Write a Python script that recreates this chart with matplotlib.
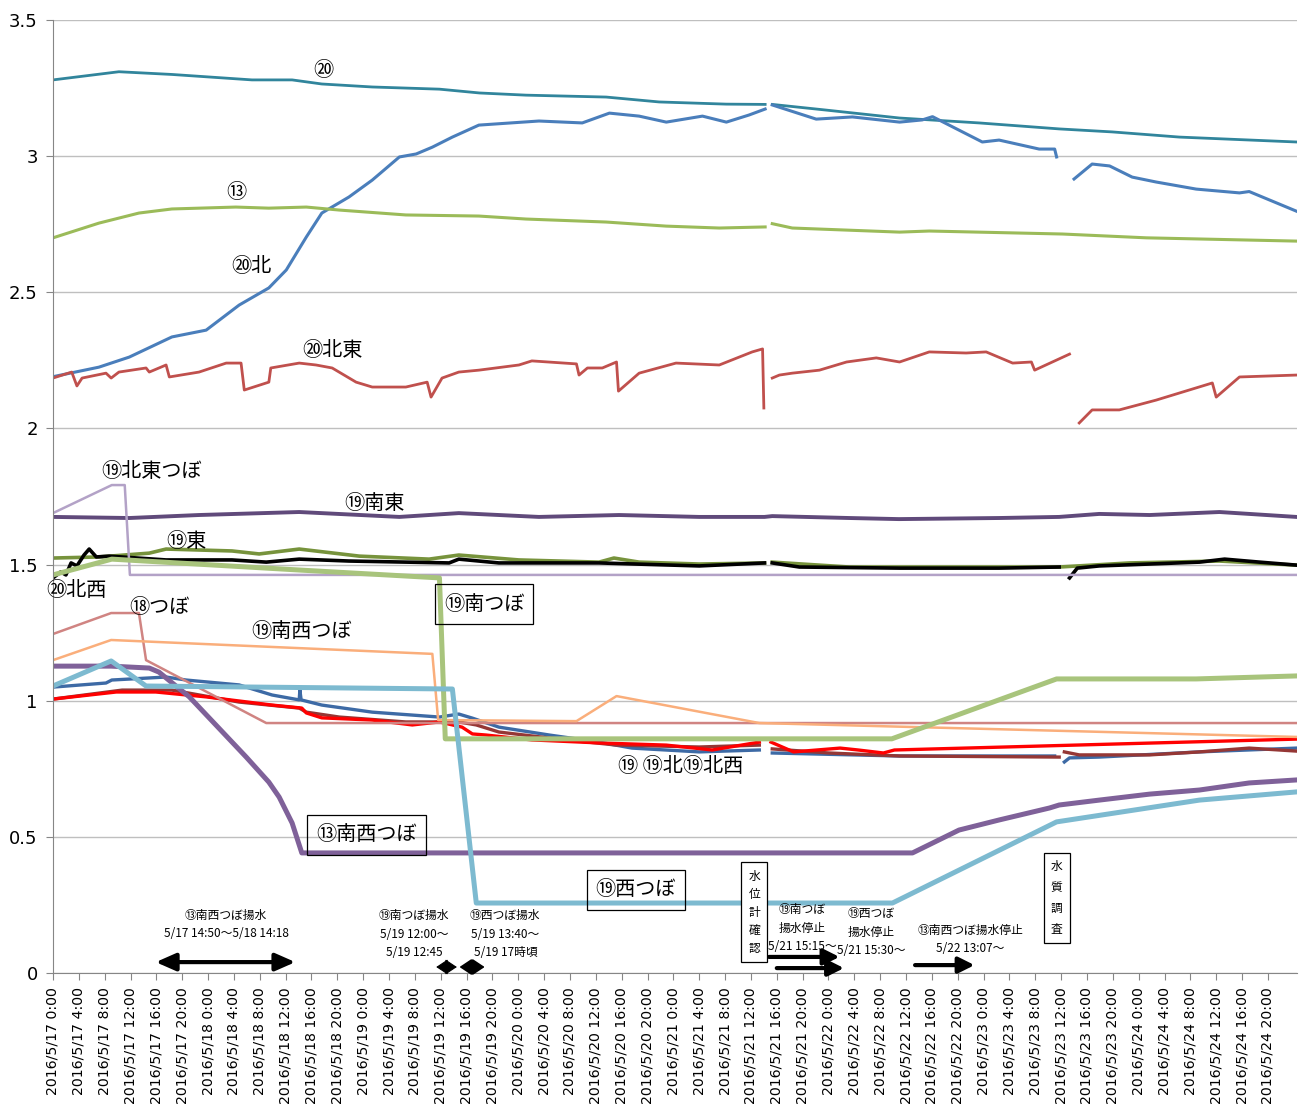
import matplotlib
matplotlib.use('Agg')
import matplotlib.pyplot as plt
import numpy as np
import pandas as pd

plt.rcParams['font.family'] = ['Noto Sans CJK JP', 'DejaVu Sans']
nan = np.nan

# hours since 2016/5/17 0:00 and water level values
t_20 = [0, 10.2, 18.4, 30.8, 37.0, 41.6, 49.4, 59.8, 66.0, 73.2, 85.6, 93.8, 104.2, 110.2, nan,
        111.3, 119.7, 131.0, 143.3, 155.7, 163.9, 174.3, 192.4]
v_20 = [3.28, 3.31, 3.30, 3.28, 3.28, 3.265, 3.254, 3.246, 3.232, 3.224, 3.217, 3.199, 3.191, 3.19, nan,
        3.19, 3.169, 3.14, 3.122, 3.10, 3.089, 3.07, 3.052]

t_20n = [0, 7.1, 11.8, 18.4, 23.7, 28.8, 33.4, 36.1, 39.2, 41.6, 45.8, 49.4, 53.6, 56.2, 58.7, 61.8,
         65.9, 75.2, 81.9, 86.1, 90.7, 94.9, 100.5, 104.2, 107.7, 110.2, nan, 111.3, 118.1, 123.7,
         131.0, 134.5, 136.1, 143.8, 146.4, 152.6, 155.0, 155.3, nan, 158.0, 160.8, 163.5, 167.0,
         170.7, 176.9, 183.6, 185.1, 192.4]
v_20n = [2.19, 2.225, 2.262, 2.336, 2.361, 2.453, 2.516, 2.582, 2.703, 2.791, 2.85, 2.912, 2.997,
         3.008, 3.033, 3.07, 3.114, 3.129, 3.122, 3.158, 3.147, 3.125, 3.147, 3.125, 3.151, 3.173,
         nan, 3.188, 3.136, 3.144, 3.125, 3.133, 3.145, 3.052, 3.059, 3.026, 3.026, 2.997, nan,
         2.916, 2.971, 2.964, 2.923, 2.905, 2.879, 2.865, 2.87, 2.798]

t_13 = [0, 7.1, 13.3, 18.4, 28.3, 33.4, 39.2, 44.3, 54.6, 65.9, 73.2, 85.6, 94.9, 103.1, 110.2, nan,
        111.3, 114.4, 131.0, 135.6, 156.2, 169.2, 192.4]
v_13 = [2.70, 2.754, 2.791, 2.806, 2.813, 2.809, 2.813, 2.802, 2.784, 2.78, 2.769, 2.758, 2.743,
        2.736, 2.74, nan, 2.752, 2.736, 2.721, 2.725, 2.714, 2.70, 2.688]

t_20ne = [0, 2.9, 3.7, 4.5, 8.2, 9.0, 10.2, 14.4, 14.9, 17.5, 18.0, 22.6, 26.8, 29.1, 29.6, 33.4,
          33.7, 38.1, 40.7, 43.2, 46.9, 49.4, 54.6, 57.9, 58.5, 60.2, 62.8, 65.9, 72.1, 74.1, 81.0,
          81.4, 82.7, 85.0, 87.2, 87.5, 90.7, 96.4, 103.1, 108.2, 109.8, 110.0, nan, 111.3, 112.4,
          114.4, 118.6, 122.8, 127.4, 131.0, 135.6, 141.3, 144.4, 148.5, 151.4, 151.9, 157.3, nan,
          158.8, 160.8, 165.0, 170.7, 179.4, 180.0, 183.6, 192.4]
v_20ne = [2.185, 2.207, 2.156, 2.185, 2.203, 2.185, 2.207, 2.222, 2.207, 2.233, 2.189, 2.207, 2.240,
          2.240, 2.141, 2.170, 2.222, 2.240, 2.233, 2.222, 2.170, 2.152, 2.152, 2.170, 2.115, 2.185,
          2.207, 2.214, 2.233, 2.248, 2.237, 2.196, 2.222, 2.222, 2.244, 2.137, 2.203, 2.240, 2.233,
          2.281, 2.292, 2.075, nan, 2.185, 2.196, 2.203, 2.214, 2.244, 2.259, 2.244, 2.281, 2.277,
          2.281, 2.240, 2.244, 2.214, 2.273, nan, 2.020, 2.068, 2.068, 2.104, 2.167, 2.115, 2.189,
          2.196]

t_19se = [0, 11.8, 22.6, 38.1, 53.6, 62.8, 75.2, 87.6, 100.0, 110.1, 111.3, 123.2, 130.9, 146.4,
          155.7, 161.9, 169.7, 180.5, 192.4]
v_19se = [1.675, 1.671, 1.682, 1.693, 1.675, 1.689, 1.675, 1.682, 1.675, 1.675, 1.678, 1.671, 1.667,
          1.671, 1.675, 1.686, 1.682, 1.693, 1.675]

t_19ne_pit = [0, 9.1, 11.1, 11.9, 192.4]
v_19ne_pit = [1.689, 1.792, 1.792, 1.462, 1.462]

t_19e = [0, 7.1, 14.9, 17.5, 27.7, 31.9, 38.1, 47.4, 58.2, 62.8, 72.1, 84.5, 86.8, 90.7, 100.0, 110.1,
         nan, 111.3, 123.2, 138.7, 155.7, 166.6, 180.5, 192.4]
v_19e = [1.524, 1.528, 1.542, 1.557, 1.550, 1.539, 1.557, 1.531, 1.520, 1.535, 1.517, 1.509, 1.524,
         1.509, 1.502, 1.506, nan, 1.509, 1.491, 1.491, 1.491, 1.506, 1.513, 1.498]

t_20nw = [0, 1.2, 2.0, 2.8, 3.7, 4.8, 5.6, 6.7, 8.7, 17.5, 27.7, 33.0, 38.1, 45.8, 61.3, 62.8, 69.0,
          84.5, 100.0, 110.1, nan, 111.3, 115.5, 131.0, 146.4, 155.7, nan, 157.3, 158.5, 161.9,
          177.4, 181.3, 186.7, 192.4]
v_20nw = [1.451, 1.473, 1.462, 1.506, 1.495, 1.535, 1.557, 1.528, 1.531, 1.517, 1.517, 1.509, 1.520,
          1.513, 1.506, 1.520, 1.506, 1.506, 1.495, 1.506, nan, 1.506, 1.491, 1.487, 1.487, 1.491,
          nan, 1.451, 1.487, 1.495, 1.509, 1.520, 1.509, 1.498]

t_19s_pit = [0, 9.1, 38.1, 59.8, 60.7, 129.8, 155.3, 176.9, 192.4]
v_19s_pit = [1.462, 1.520, 1.48, 1.451, 0.86, 0.86, 1.08, 1.08, 1.091]

t_13sw_pit = [0, 9.0, 14.9, 16.4, 21.1, 25.2, 29.9, 33.4, 35.0, 37.0, 38.5, 133.0, 140.2, 146.4,
              154.2, 155.7, 161.9, 169.7, 177.4, 185.1, 192.4]
v_13sw_pit = [1.127, 1.127, 1.12, 1.105, 1.014, 0.911, 0.793, 0.701, 0.646, 0.551, 0.441, 0.441,
              0.525, 0.562, 0.606, 0.617, 0.635, 0.657, 0.672, 0.698, 0.709]

t_19w_pit = [0, 9.0, 14.4, 61.8, 65.5, 129.9, 155.3, 177.4, 192.4]
v_19w_pit = [1.054, 1.146, 1.054, 1.043, 0.257, 0.257, 0.555, 0.635, 0.665]

t_18_pit = [0, 9.0, 13.3, 14.4, 33.0, 192.4]
v_18_pit = [1.245, 1.322, 1.322, 1.149, 0.918, 0.918]

t_19sw_pit = [0, 9.0, 58.7, 59.6, 81.0, 87.2, 109.3, 192.4]
v_19sw_pit = [1.149, 1.223, 1.172, 0.929, 0.925, 1.017, 0.918, 0.867]

t_19 = [0, 8.2, 9.1, 17.5, 20.6, 28.8, 33.9, 38.1, 38.2, 38.4, 41.6, 49.4, 59.8, 62.8, 64.9, 69.0,
        76.8, 84.5, 89.6, 100.0, 109.3, nan, 111.3, 131.0, 155.0, nan, 156.5, 157.3, 161.9, 177.4,
        192.4]
v_19 = [1.050, 1.065, 1.076, 1.087, 1.076, 1.058, 1.021, 1.003, 1.039, 1.003, 0.984, 0.958, 0.940,
        0.951, 0.936, 0.903, 0.874, 0.848, 0.826, 0.812, 0.819, nan, 0.808, 0.797, 0.797, nan,
        0.775, 0.790, 0.793, 0.812, 0.826]

t_19n = [0, 10.7, 18.4, 28.8, 38.1, 39.2, 44.3, 54.6, 62.8, 65.5, 69.0, 76.8, 87.2, 100.0, 109.3, nan,
         111.3, 120.1, 131.0, 155.7, nan, 156.5, 158.8, 169.7, 177.4, 185.1, 192.4]
v_19n = [1.006, 1.039, 1.039, 0.995, 0.973, 0.958, 0.940, 0.922, 0.922, 0.911, 0.885, 0.863, 0.837,
         0.830, 0.837, nan, 0.823, 0.808, 0.797, 0.793, nan, 0.812, 0.801, 0.801, 0.812, 0.826, 0.815]

t_19nw = [0, 9.8, 15.9, 23.7, 33.9, 38.5, 39.2, 41.6, 49.4, 55.6, 59.8, 63.3, 64.9, 67.0, 74.1, 84.5,
          94.9, 102.0, 109.3, nan, 111.1, 114.6, 121.8, 124.6, 128.5, 130.2, 192.4]
v_19nw = [1.006, 1.032, 1.032, 1.014, 0.984, 0.973, 0.955, 0.937, 0.929, 0.911, 0.922, 0.903, 0.878,
          0.874, 0.856, 0.845, 0.837, 0.819, 0.848, nan, 0.848, 0.812, 0.826, 0.819, 0.808, 0.819,
          0.859]

y_ticks = [0, 0.5, 1, 1.5, 2, 2.5, 3, 3.5]
y_tick_labels = ['0', '0.5', '1', '1.5', '2', '2.5', '3', '3.5']
x_tick_times = pd.date_range('2016-05-17 00:00', '2016-05-24 20:00', freq='4h')
x_tick_labels = [f'{d.year}/{d.month}/{d.day} {d.hour}:{d.minute:02d}' for d in x_tick_times]
x_ticks = [(d - x_tick_times[0]).total_seconds() / 3600 for d in x_tick_times]

fig = plt.figure(figsize=(13, 11.12), dpi=100)
ax = fig.add_axes([53 / 1300, 139 / 1112, 1244 / 1300, 953 / 1112])

# measured series (thin, noisy)
ax.plot(t_20, v_20, color='#31859C', lw=2.0)
ax.plot(t_20n, v_20n, color='#4A7EBB', lw=2.2)
ax.plot(t_13, v_13, color='#9BBB59', lw=2.2)
ax.plot(t_20ne, v_20ne, color='#C0504D', lw=2.0)
ax.plot(t_19se, v_19se, color='#604A7B', lw=2.8)
ax.plot(t_19e, v_19e, color='#77933C', lw=2.6)
ax.plot(t_20nw, v_20nw, color='black', lw=2.6)
ax.plot(t_19, v_19, color='#3D6AA5', lw=2.4)
ax.plot(t_19n, v_19n, color='#953735', lw=2.4)
ax.plot(t_19nw, v_19nw, color='#FF0000', lw=2.4)

# pit series
ax.plot(t_19ne_pit, v_19ne_pit, color='#B3A2C7', lw=1.8)
ax.plot(t_18_pit, v_18_pit, color='#D08482', lw=1.8)
ax.plot(t_19sw_pit, v_19sw_pit, color='#FAAE7B', lw=1.8)
ax.plot(t_13sw_pit, v_13sw_pit, color='#7F6199', lw=3.6)
ax.plot(t_19s_pit, v_19s_pit, color='#A8C47C', lw=3.6)
ax.plot(t_19w_pit, v_19w_pit, color='#7DBAD0', lw=3.6)

ax.set_xlim(0, 192.5)
ax.set_ylim(0, 3.5)
ax.set_yticks(y_ticks)
ax.set_yticklabels(y_tick_labels, fontsize=13, family='DejaVu Sans')
ax.set_xticks(x_ticks)
ax.set_xticklabels(x_tick_labels, rotation=90, fontsize=10.2, family='DejaVu Sans')
ax.tick_params(axis='x', length=5, color='#868686', pad=5)
ax.tick_params(axis='y', length=5, color='#868686', pad=6)
ax.yaxis.grid(True, color='#BFBFBF', lw=1)
ax.set_axisbelow(True)
for s in ['top', 'right']:
    ax.spines[s].set_visible(False)
for s in ['left', 'bottom']:
    ax.spines[s].set_color('#868686')

# series labels
lab = dict(fontsize=14.5, ha='center', va='center', zorder=5)
ax.text(41.9, 3.316, '⑳', **lab)
ax.text(28.3, 2.868, '⑬', **lab)
ax.text(30.7, 2.593, '⑳北', **lab)
ax.text(43.2, 2.288, '⑳北東', **lab)
ax.text(15.2, 1.840, '⑲北東つぼ', **lab)
ax.text(49.7, 1.726, '⑲南東', **lab)
ax.text(20.6, 1.586, '⑲東', **lab)
ax.text(3.6, 1.405, '⑳北西', **lab)
ax.text(16.4, 1.344, '⑱つぼ', **lab)
ax.text(38.4, 1.256, '⑲南西つぼ', **lab)
ax.text(97.1, 0.757, '⑲ ⑲北⑲北西', **lab)
box = dict(boxstyle='square,pad=0.45', facecolor='none', edgecolor='black', lw=0.9)
ax.text(66.7, 1.355, '⑲南つぼ', bbox=box, **lab)
ax.text(48.5, 0.507, '⑬南西つぼ', bbox=box, **lab)
ax.text(90.2, 0.305, '⑲西つぼ', bbox=box, **lab)

vbox = dict(boxstyle='square,pad=0.6', facecolor='white', edgecolor='black', lw=0.9)
ax.text(108.5, 0.224, '水\n位\n計\n確\n認', fontsize=8.5, ha='center', va='center',
        linespacing=1.5, bbox=vbox, zorder=6)
ax.text(155.3, 0.275, '水\n質\n調\n査', fontsize=8.5, ha='center', va='center',
        linespacing=1.8, bbox=vbox, zorder=6)

# pumping notes
note = dict(fontsize=8.5, ha='center', va='center', linespacing=1.55, zorder=5)
ax.text(26.8, 0.178, '⑬南西つぼ揚水\n5/17 14:50〜5/18 14:18', **note)
ax.text(55.9, 0.143, '⑲南つぼ揚水\n5/19 12:00〜\n5/19 12:45', **note)
ax.text(70.0, 0.143, '⑲西つぼ揚水\n5/19 13:40〜\n5/19 17時頃', **note)
ax.text(115.9, 0.165, '⑲南つぼ\n揚水停止\n5/21 15:15〜', **note)
ax.text(126.6, 0.150, '⑲西つぼ\n揚水停止\n5/21 15:30〜', **note)
ax.text(142.0, 0.123, '⑬南西つぼ揚水停止\n5/22 13:07〜', **note)

dbl = dict(arrowstyle='<|-|>,head_length=0.5,head_width=0.22', color='black', lw=3,
           mutation_scale=24, shrinkA=0, shrinkB=0)
one = dict(arrowstyle='-|>,head_length=0.5,head_width=0.25', color='black', lw=3,
           mutation_scale=19, shrinkA=0, shrinkB=0)
small = dict(arrowstyle='<|-|>,head_length=0.45,head_width=0.3', color='black', lw=0.8,
             mutation_scale=16, shrinkA=0, shrinkB=0)
ax.annotate('', xy=(37.5, 0.04), xytext=(15.9, 0.04), arrowprops=dbl)
ax.annotate('', xy=(62.5, 0.022), xytext=(59.3, 0.022), arrowprops=small)
ax.annotate('', xy=(66.8, 0.022), xytext=(62.9, 0.022), arrowprops=dict(small, lw=1.5))
ax.annotate('', xy=(121.7, 0.059), xytext=(110.8, 0.059), arrowprops=one)
ax.annotate('', xy=(122.4, 0.018), xytext=(112.0, 0.018), arrowprops=one)
ax.annotate('', xy=(142.6, 0.029), xytext=(133.4, 0.029), arrowprops=one)

fig.savefig('out.png', dpi=100)
